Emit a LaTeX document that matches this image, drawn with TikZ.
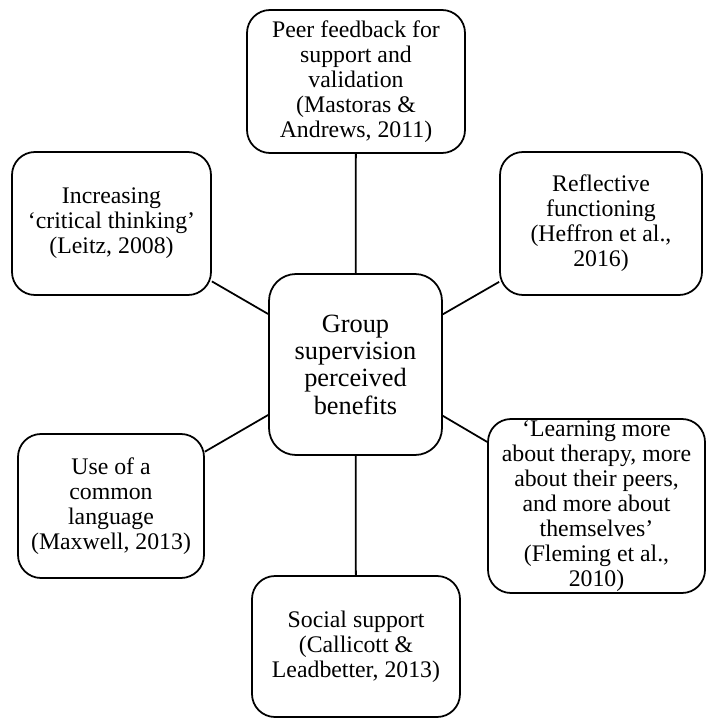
\documentclass[tikz,border=0pt]{standalone}
\usepackage{fontspec}
\setmainfont{Liberation Serif}
\usepackage{tikz}

\begin{document}
\begin{tikzpicture}[
  box/.style={draw,line width=1.5pt,rounded corners=0.69cm,align=center,inner sep=0pt,
    font=\fontsize{20.3}{21.3}\selectfont}]
\useasboundingbox (0,0) rectangle (21.21,-21.54);
\path
  (10.665,-10.935) node [box,minimum width=5.19cm,minimum height=5.43cm,rounded corners=0.81cm,
    font=\fontsize{22.5}{23.3}\selectfont] (benefits) {Group\\supervision\\perceived\\benefits}
  (10.68,-2.445) node [box,minimum width=6.54cm,minimum height=4.29cm] (peer)
    {Peer feedback for\\support and\\validation\\(Mastoras \&\\Andrews, 2011)}
  (3.345,-6.705) node [box,minimum width=5.97cm,minimum height=4.29cm] (critical)
    {Increasing\\‘critical thinking’\\(Leitz, 2008)}
  (18.03,-6.705) node [box,minimum width=6.06cm,minimum height=4.29cm] (reflective)
    {Reflective\\functioning\\(Heffron et al.,\\2016)}
  (3.33,-15.18) node [box,minimum width=5.58cm,minimum height=4.32cm] (language)
    {Use of a\\common\\language\\(Maxwell, 2013)}
  (17.895,-15.18) node [box,minimum width=6.51cm,minimum height=5.22cm] (learning)
    {‘Learning more\\about therapy, more\\about their peers,\\and more about\\themselves’\\(Fleming et al.,\\2010)}
  (10.68,-19.395) node [box,minimum width=6.24cm,minimum height=4.23cm] (social)
    {Social support\\(Callicott \&\\Leadbetter, 2013)};
\draw [line width=1.5pt] (benefits) -- (peer);
\draw [line width=1.5pt] (benefits) -- (critical);
\draw [line width=1.5pt] (benefits) -- (reflective);
\draw [line width=1.5pt] (benefits) -- (language);
\draw [line width=1.5pt] (benefits) -- (learning);
\draw [line width=1.5pt] (benefits) -- (social);
\end{tikzpicture}
\end{document}
